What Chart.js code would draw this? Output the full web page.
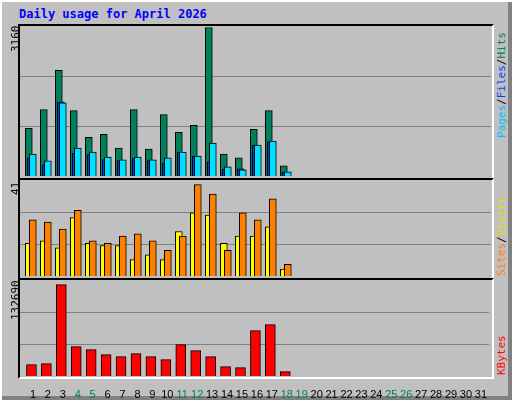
<!DOCTYPE html>
<html><head><meta charset="utf-8">
<script src="https://cdn.jsdelivr.net/npm/chart.js@4"></script>
<style>
body{margin:0;}
#wrap{position:relative;width:512px;height:400px;background:#c0c0c0;overflow:hidden;box-shadow:inset 2px 2px 0 #fff, inset -4px -4px 0 #808080;}
.abs{position:absolute;}
.frame{position:absolute;box-sizing:border-box;border-top:2px solid #000;border-left:2px solid #000;border-right:2px solid #fff;border-bottom:2px solid #fff;}
.rot{position:absolute;transform-origin:0 0;transform:rotate(-90deg);white-space:nowrap;font-family:"DejaVu Sans Mono",monospace;font-size:11px;}
canvas{position:absolute;}
</style></head><body>
<div id="wrap">
<div class="abs" style="left:19px;top:7px;font-family:'DejaVu Sans Mono',monospace;font-weight:bold;font-size:12px;color:#0000ff;">Daily usage for April 2026</div>
<div class="frame" style="left:18px;top:24px;width:476px;height:156px"></div>
<div class="frame" style="left:18px;top:178px;width:476px;height:102px"></div>
<div class="frame" style="left:18px;top:278px;width:476px;height:101px"></div>
<canvas id="c1" width="471" height="150" style="left:20px;top:26px"></canvas>
<canvas id="c2" width="471" height="96" style="left:20px;top:180px"></canvas>
<canvas id="c3" width="471" height="119" style="left:20px;top:280px"></canvas>
<div class="rot" style="left:9px;top:52px;color:#000">3160</div>
<div class="rot" style="left:9px;top:195px;color:#000">41</div>
<div class="rot" style="left:9px;top:320px;color:#000">132690</div>
<div class="rot" style="left:495px;top:138px;"><span style="color:#00c0ff">Pages</span><span>/</span><span style="color:#0040ff">Files</span><span>/</span><span style="color:#00805c">Hits</span></div>
<div class="rot" style="left:495px;top:276px;"><span style="color:#ff8000">Sites</span><span>/</span><span style="color:#e0e000">Visits</span></div>
<div class="rot" style="left:495px;top:375px;color:#ff0000">KBytes</div>
</div>
<script>
const days = Array.from({length:31},(_, i)=>i+1);
const xLabels = days.map(String);
const weekendDays = [4,5,11,12,18,19,25,26];
const hits  = [1014,1412,2251,1391,825,888,594,1412,573,1307,930,1077,3160,468,385,993,1391,217];
const files = [385,238,1580,489,454,350,329,370,329,266,503,419,301,140,154,657,727,77];
const pages = [468,322,1559,594,510,405,343,405,343,385,510,426,699,196,133,657,741,91];
const visits= [14,15,12,25,14,13,13,7,9,7,19,27,26,14,17,17,21,3];
const sites = [24,23,20,28,15,14,17,18,15,11,17,39,35,11,27,24,33,5];
const kbytes= [16465,17918,132690,42616,38257,30993,28088,32446,28088,23729,45521,36805,28088,13560,12107,65861,74577,6295];
const maxHits=3160, maxVisits=41, maxKB=132690;

const XMIN=0.133, XMAX=31.533;
function pts(arr,off){return arr.map((v,i)=>({x:i+1+off,y:v}));}
const gridPlugin={id:'g',beforeDatasetsDraw(ch){const y=ch.scales.y,ctx=ch.ctx,a=ch.chartArea;ctx.save();ctx.strokeStyle='#808080';ctx.lineWidth=1;
 [1,2].forEach(k=>{const p=Math.round(y.getPixelForValue(y.max*k/3))+0.5;ctx.beginPath();ctx.moveTo(a.left,p);ctx.lineTo(a.right,p);ctx.stroke();});ctx.restore();}};
function ds(data,off,color,w,order){return {data:pts(data,off),backgroundColor:color,borderColor:'#000',borderWidth:1,barThickness:w,order:order,grouped:false};}
function mk(id,datasets,ymax,showX){
 const x={type:'linear',min:XMIN,max:XMAX,offset:false,display:showX,grid:{display:false},border:{display:false},
     afterBuildTicks(s){s.ticks=days.map(v=>({value:v}));},
     ticks:{autoSkip:false,maxRotation:0,padding:4,font:{family:'Liberation Sans',size:11},
       color:c=>weekendDays.includes(c.tick&&c.tick.value)?'#00805c':'#000',
       callback:v=>xLabels[v-1]}};
 if(showX) x.afterFit=s=>{s.height=23;};
 return new Chart(document.getElementById(id),{type:'bar',data:{datasets},
 options:{responsive:false,devicePixelRatio:1,animation:false,layout:{padding:0},
 plugins:{legend:{display:false},tooltip:{enabled:false}},
 scales:{x,y:{min:0,max:ymax,display:false}}},
 plugins:[gridPlugin]});
}
mk('c1',[ds(pages,-0.013,'#00e0ff',7,0),ds(files,-0.147,'#0040ff',7,1),ds(hits,-0.28,'#00805c',7,2)],maxHits*1.01,false);
mk('c2',[ds(sites,-0.013,'#ff8000',7,0),ds(visits,-0.28,'#ffff00',7,1)],maxVisits,false);
mk('c3',[ds(kbytes,-0.1,'#ff0000',10,0)],maxKB*96/91.4,true);
</script>
</body></html>
